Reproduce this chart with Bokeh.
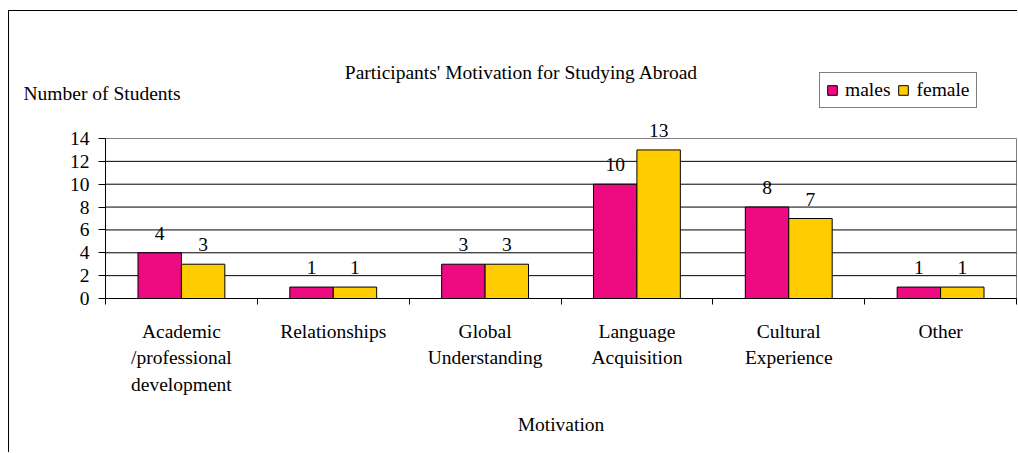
from bokeh.plotting import figure
from bokeh.models import (Range1d, FixedTicker, ColumnDataSource, LabelSet, Label,
                          Legend, LegendItem)
from bokeh.transform import dodge
from bokeh.embed import file_html
from bokeh.resources import INLINE

# ---------------- data ----------------
categories = ["Academic\n/professional\ndevelopment", "Relationships", "Global\nUnderstanding",
              "Language\nAcquisition", "Cultural\nExperience", "Other"]
males = [4, 1, 3, 10, 8, 1]
female = [3, 1, 3, 13, 7, 1]
y_ticks = [0, 2, 4, 6, 8, 10, 12, 14]
series_names = ["males", "female"]
title_text = "Participants' Motivation for Studying Abroad"
y_title = "Number of Students"
x_title = "Motivation"

# ---------------- style / geometry (page pixels) ----------------
FONT = "'Liberation Serif', 'Times New Roman', serif"
FS = "19.5px"
PINK = "#EE0A80"
YELLOW = "#FFCC00"
CANVAS_X0, CANVAS_Y0 = 9, 11          # after 8/10px margin + 1px border
W, H = 1009, 442
PLOT_L, PLOT_R, PLOT_T, PLOT_B = 105, 1016, 138, 298
BAR_W = 0.286
OFF = 0.143

n = len(categories)
ymax = y_ticks[-1]
ppx = (PLOT_R - PLOT_L) / n
ppy = (PLOT_B - PLOT_T) / ymax
centers = [i + 0.5 for i in range(n)]
bounds = list(range(n + 1))


def to_data(xp, yp):
    return (xp - PLOT_L) / ppx, (PLOT_B - yp) / ppy


x_lo, y_hi = to_data(CANVAS_X0, CANVAS_Y0)
x_hi, y_lo = to_data(CANVAS_X0 + W, CANVAS_Y0 + H)
p = figure(width=W, height=H,
           x_range=Range1d(x_lo, x_hi), y_range=Range1d(y_lo, y_hi),
           output_backend="svg", toolbar_location=None,
           min_border_left=0, min_border_right=0, min_border_top=0, min_border_bottom=0)
p.styles = {"border-top": "1px solid black", "border-left": "1px solid black",
            "margin-top": "10px", "margin-left": "8px"}
p.outline_line_color = None
p.background_fill_color = "white"
p.border_fill_color = "white"
p.xgrid.visible = False
p.ygrid.visible = False

# plot-area outline and horizontal grid lines
p.quad(left=0, right=n, bottom=0, top=ymax, fill_color=None, line_color="#808080", line_width=1)
grid_levels = [v for v in y_ticks if 0 < v < ymax]
p.segment(x0=[0] * len(grid_levels), x1=[n] * len(grid_levels), y0=grid_levels, y1=grid_levels,
          line_color="black", line_width=1)

# y axis, drawn at x = 0 inside the frame
ya = p.yaxis[0]
ya.fixed_location = 0
ya.bounds = (0, ymax)
ya.ticker = FixedTicker(ticks=y_ticks)
ya.major_label_text_font = FONT
ya.major_label_text_font_size = FS
ya.major_label_text_color = "black"
ya.major_tick_out = 7
ya.major_tick_in = 0
ya.minor_tick_line_color = None
ya.axis_line_color = "black"
ya.major_tick_line_color = "black"
ya.major_label_standoff = 9

# x axis at y = 0: labels at slot centres, tick marks at slot boundaries
xa = p.xaxis[0]
xa.fixed_location = 0
xa.bounds = (0, n)
xa.ticker = FixedTicker(ticks=centers, minor_ticks=bounds)
xa.major_label_overrides = {c: lab for c, lab in zip(centers, categories)}
xa.major_tick_line_color = None
xa.major_tick_out = 0
xa.major_tick_in = 0
xa.minor_tick_out = 6
xa.minor_tick_in = 0
xa.minor_tick_line_color = "black"
xa.axis_line_color = "black"
xa.major_label_text_font = FONT
xa.major_label_text_font_size = FS
xa.major_label_text_color = "black"
xa.major_label_text_line_height = 1.28
xa.major_label_standoff = 16

src = ColumnDataSource(dict(pos=centers, males=males, female=female,
                            males_txt=[str(v) for v in males],
                            female_txt=[str(v) for v in female]))

r1 = p.vbar(x=dodge("pos", -OFF), top="males", width=BAR_W, source=src,
            fill_color=PINK, line_color="black", line_width=1)
r2 = p.vbar(x=dodge("pos", OFF), top="female", width=BAR_W, source=src,
            fill_color=YELLOW, line_color="black", line_width=1)

for col, off in (("males", -OFF), ("female", OFF)):
    p.add_layout(LabelSet(x=dodge("pos", off), y=col, text=col + "_txt",
                          source=src, y_offset=13, text_align="center",
                          text_baseline="alphabetic", text_font=FONT,
                          text_font_size=FS, text_color="black"))

tx, ty = to_data(521, 72)
p.add_layout(Label(x=tx, y=ty, text=title_text, text_align="center", text_baseline="middle",
                   text_font=FONT, text_font_size=FS, text_color="black"))
lx, ly = to_data(23, 93)
p.add_layout(Label(x=lx, y=ly, text=y_title, text_align="left", text_baseline="middle",
                   text_font=FONT, text_font_size=FS, text_color="black"))
_, my = to_data(0, 424)
p.add_layout(Label(x=n / 2, y=my, text=x_title, text_align="center", text_baseline="middle",
                   text_font=FONT, text_font_size=FS, text_color="black"))

legend = Legend(items=[LegendItem(label=series_names[0], renderers=[r1]),
                       LegendItem(label=series_names[1], renderers=[r2])],
                orientation="horizontal", location=(819 - CANVAS_X0, CANVAS_Y0 + H - 108),
                label_text_font=FONT, label_text_font_size=FS, label_text_color="black",
                glyph_width=12, glyph_height=12, label_standoff=7, spacing=7,
                padding=6, margin=0, label_height=21,
                border_line_color="black", border_line_width=1,
                background_fill_color="white", background_fill_alpha=1)
p.add_layout(legend, "center")

open("out.html", "w").write(file_html(p, INLINE))
